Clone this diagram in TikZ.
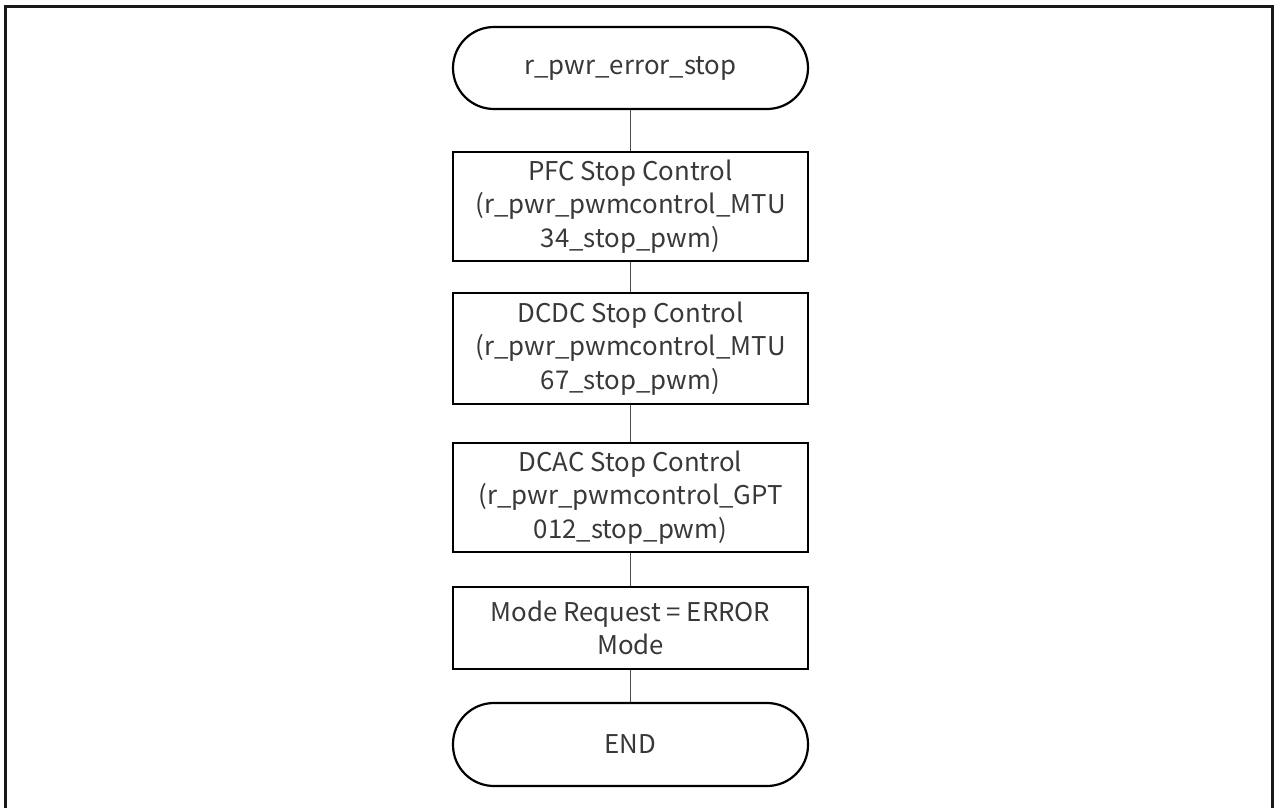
\documentclass[tikz,border=0pt]{standalone}
\usepackage{fontspec}
\setmainfont{Noto Sans CJK JP}
\begin{document}
\begin{tikzpicture}[x=1pt,y=-1pt,
  txt/.style={font=\fontsize{25.8}{33.5}\selectfont, text=black!78, align=center, inner sep=0pt},
  procbox/.style={txt, draw=black, line width=2.6pt, rectangle, minimum width=355pt},
  termbox/.style={txt, draw=black, line width=2.2pt, rectangle, rounded corners=41pt, minimum width=355pt, minimum height=82pt},
  conn/.style={draw=black!70, line width=1.6pt}]
\useasboundingbox (0,0) rectangle (1274,808);
\draw[line width=3pt, draw=black!90] (5,7) rectangle (1272,815);
\node[termbox] (start) at (630.5,68) {r\_pwr\_error\_stop};
\node[procbox, minimum height=109pt] (pfc) at (630.5,206.5) {PFC Stop Control\\(r\_pwr\_pwmcontrol\_MTU\\34\_stop\_pwm)};
\node[procbox, minimum height=111pt] (dcdc) at (630.5,348.5) {DCDC Stop Control\\(r\_pwr\_pwmcontrol\_MTU\\67\_stop\_pwm)};
\node[procbox, minimum height=109pt] (dcac) at (630.5,497.5) {DCAC Stop Control\\(r\_pwr\_pwmcontrol\_GPT\\012\_stop\_pwm)};
\node[procbox, minimum height=82pt] (mode) at (630.5,628) {Mode Request = ERROR\\Mode};
\node[termbox, minimum height=83pt] (end) at (630.5,744.5) {END};
\draw[conn] (start) -- (pfc);
\draw[conn] (pfc) -- (dcdc);
\draw[conn] (dcdc) -- (dcac);
\draw[conn] (dcac) -- (mode);
\draw[conn] (mode) -- (end);
\end{tikzpicture}
\end{document}
